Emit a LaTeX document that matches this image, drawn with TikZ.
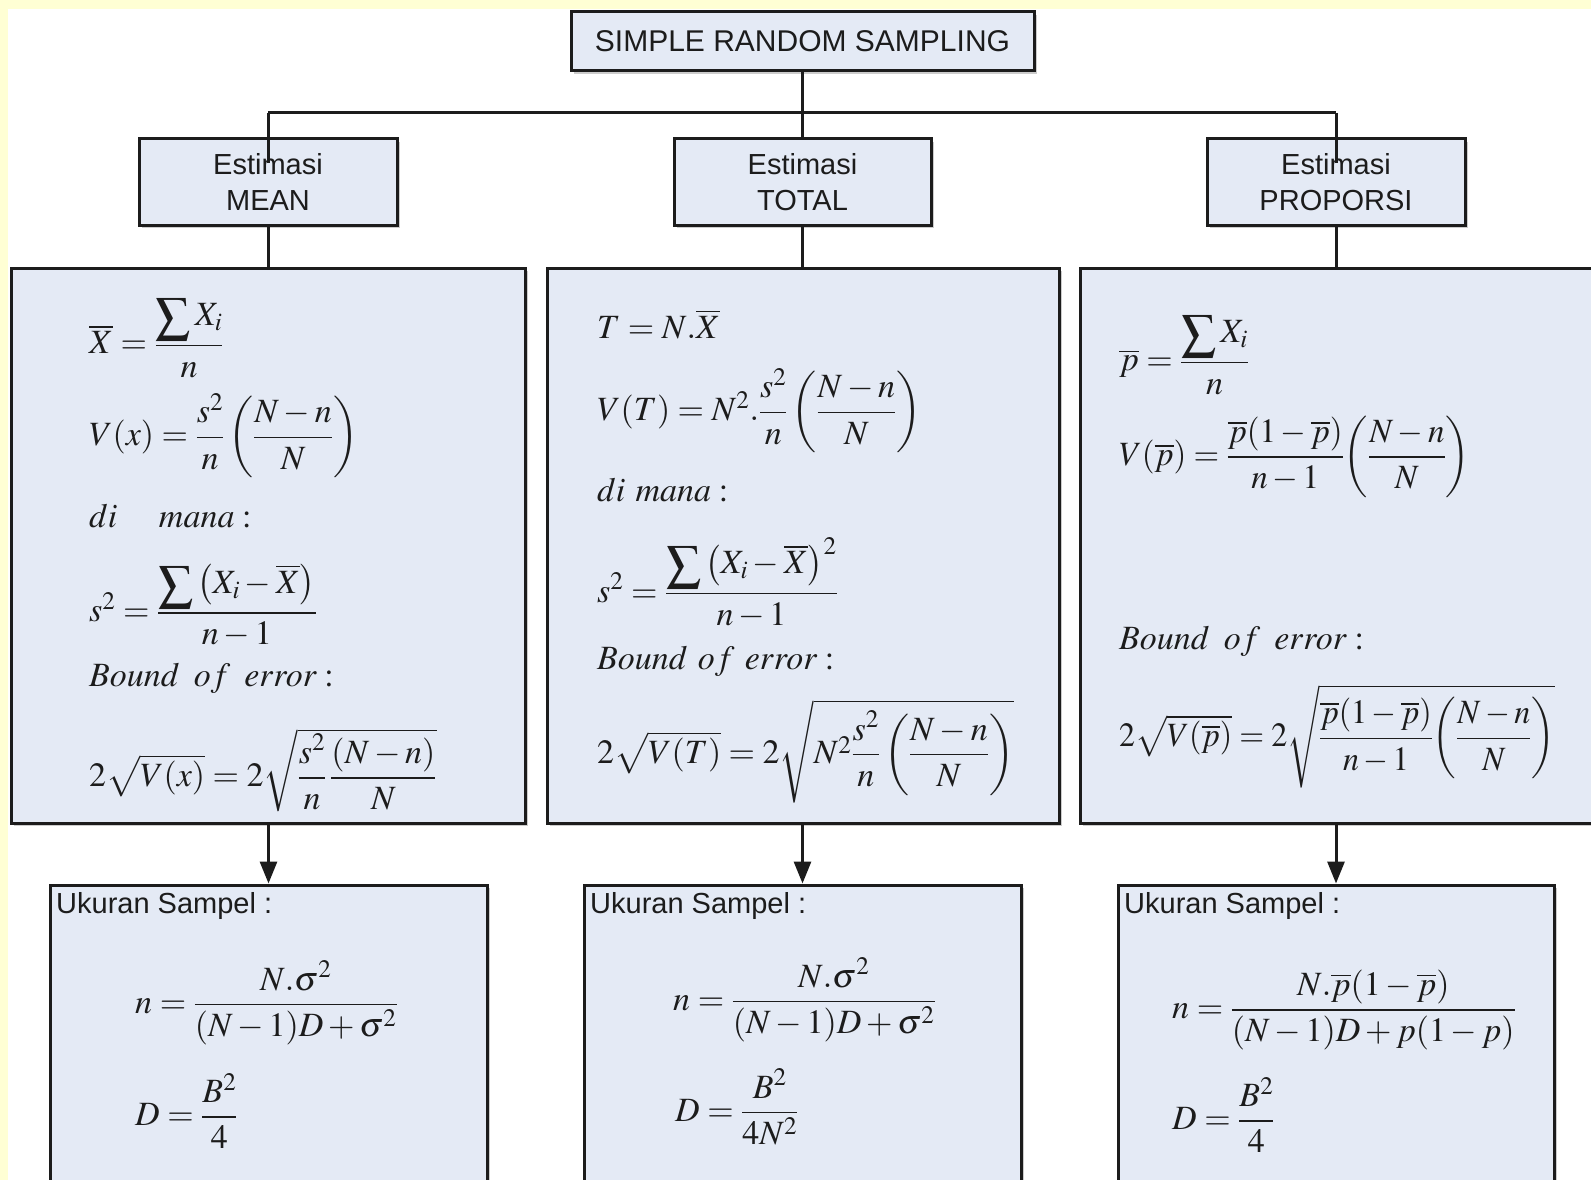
\documentclass[tikz,border=0pt]{standalone}
\usepackage{amsmath}
\usepackage{graphicx}
\usepackage{mathptmx}
\usepackage[no-math]{fontspec}
\newfontfamily\arial{Liberation Sans}
\usetikzlibrary{arrows.meta,shadows,calc}
\definecolor{bgyellow}{RGB}{255,255,212}
\definecolor{boxfill}{RGB}{228,234,245}
\definecolor{ink}{RGB}{28,28,28}
\newcommand{\bsum}{\mathop{\raisebox{-0.18em}{\scalebox{1.45}{$\textstyle\sum$}}}}
\tikzset{
  blk/.style={draw=ink, line width=3pt, fill=boxfill, inner sep=0pt,
    drop shadow={shadow xshift=3pt, shadow yshift=-3pt, fill=black, opacity=0.2}},
  conn/.style={draw=ink, line width=3pt},
  arr/.style={conn, -{Triangle[length=22pt,width=17pt]}},
  lbl/.style={font=\arial\fontsize{29}{36}\selectfont, text=ink, align=center},
  smalllbl/.style={font=\arial\fontsize{29}{32}\selectfont, text=ink, anchor=west, inner sep=0pt},
  fml/.style={font=\fontsize{34}{40}\selectfont, text=ink, anchor=west, inner sep=0pt},
}
\begin{document}
\begin{tikzpicture}[x=1pt,y=-1pt]
\useasboundingbox (0,0) rectangle (1591,1180);
\clip (0,0) rectangle (1591,1180);
\fill[bgyellow] (0,0) rectangle (1591,1180);
\fill[white] (8,9) rectangle (1600,1190);

% boxes
\node[blk, minimum width=463pt, minimum height=59pt, font=\arial\fontsize{30}{34}\selectfont, text=ink] (srs) at (802.5,41.5) {SIMPLE RANDOM SAMPLING};
\node[blk, lbl, minimum width=258pt, minimum height=86pt] (mean) at (268,182) {Estimasi\\MEAN};
\node[blk, lbl, minimum width=257pt, minimum height=86pt] (total) at (802.5,182) {Estimasi\\TOTAL};
\node[blk, lbl, minimum width=258pt, minimum height=86pt] (prop) at (1336,182) {Estimasi\\PROPORSI};

\node[blk, minimum width=514pt, minimum height=555pt] (fm) at (268,545.5) {};
\node[blk, minimum width=512pt, minimum height=555pt] (ft) at (803,545.5) {};
\node[blk, minimum width=530pt, minimum height=555pt] (fp) at (1345,545.5) {};

\node[blk, minimum width=437pt, minimum height=330pt] (um) at (268.5,1050) {};
\node[blk, minimum width=437pt, minimum height=330pt] (ut) at (802.5,1050) {};
\node[blk, minimum width=436pt, minimum height=330pt] (up) at (1336,1050) {};

% connectors
\coordinate (hl) at (268,113);
\coordinate (hr) at (1336,113);
\coordinate (meanin) at (268,163);
\coordinate (propin) at (1336,163);
\draw[conn] (srs.south) -- (total.north);
\draw[conn] (hl) -- (hr);
\draw[conn] (hl) -- (meanin);
\draw[conn] (hr) -- (propin);
\draw[conn] (mean.south) -- (mean.south |- fm.north);
\draw[conn] (total.south) -- (total.south |- ft.north);
\draw[conn] (prop.south) -- (prop.south |- fp.north);
\draw[arr] (um.north |- fm.south) -- (um.north);
\draw[arr] (ut.north |- ft.south) -- (ut.north);
\draw[arr] (up.north |- fp.south) -- (up.north);

% left formulas
\node[fml] (m1) at (89,338) {$\overline{X}=\dfrac{\bsum X_i}{n}$};
\node[fml] (m2) at (89,436) {$V(x)=\dfrac{s^2}{n}\left(\dfrac{N-n}{N}\right)$};
\node[fml] (m3) at (89,516) {$di\quad\; mana:$};
\node[fml] (m4) at (89,606) {$s^2=\dfrac{\bsum\left(X_i-\overline{X}\right)}{n-1}$};
\node[fml] (m5) at (89,678) {$Bound\ \,of\ \,error:$};
\node[fml] (m6) at (89,770) {$2\sqrt{V(x)}=2\sqrt{\dfrac{s^2}{n}\,\dfrac{(N-n)}{N}}$};

% middle formulas
\node[fml] (t1) at (597,324) {$T=N.\overline{X}$};
\node[fml] (t2) at (597,411) {$V(T)=N^2.\dfrac{s^2}{n}\left(\dfrac{N-n}{N}\right)$};
\node[fml] (t3) at (597,490) {$di\ mana:$};
\node[fml] (t4) at (597,583) {$s^2=\dfrac{\bsum\left(X_i-\overline{X}\right)^2}{n-1}$};
\node[fml] (t5) at (597,661) {$Bound\ of\ error:$};
\node[fml] (t6) at (597,751) {$2\sqrt{V(T)}=2\sqrt{N^2\dfrac{s^2}{n}\left(\dfrac{N-n}{N}\right)}$};

% right formulas
\node[fml] (p1) at (1119,355) {$\overline{p}=\dfrac{\bsum X_i}{n}$};
\node[fml] (p2) at (1119,457) {\scalebox{0.97}[1]{$V{\left(\overline{p}\right)}=\dfrac{\overline{p}{\left(1-\overline{p}\right)}}{n-1}{\left(\dfrac{N-n}{N}\right)}$}};
\node[fml] (p5) at (1119,641) {$Bound\ \,of\ \,error:$};
\node[fml] (p6) at (1119,736) {\scalebox{0.94}[1]{$2\sqrt{V{\left(\overline{p}\right)}}=2\sqrt{\dfrac{\overline{p}{\left(1-\overline{p}\right)}}{n-1}{\left(\dfrac{N-n}{N}\right)}}$}};

% bottom
\node[smalllbl] (ul) at (56,906) {Ukuran Sampel :};
\node[smalllbl] (utl) at (590,906) {Ukuran Sampel :};
\node[smalllbl] (upl) at (1124,906) {Ukuran Sampel :};

\node[fml] (n1) at (135,1003) {$n=\dfrac{N.\sigma^2}{(N-1)D+\sigma^2}$};
\node[fml] (d1) at (135,1111) {$D=\dfrac{B^2}{4}$};
\node[fml] (n2) at (673,1000) {$n=\dfrac{N.\sigma^2}{(N-1)D+\sigma^2}$};
\node[fml] (d2) at (675,1107) {$D=\dfrac{B^2}{4N^2}$};
\node[fml] (n3) at (1172,1010) {$n=\dfrac{N.\overline{p}{\left(1-\overline{p}\right)}}{(N-1)D+p(1-p)}$};
\node[fml] (d3) at (1172,1115) {$D=\dfrac{B^2}{4}$};
\end{tikzpicture}
\end{document}
